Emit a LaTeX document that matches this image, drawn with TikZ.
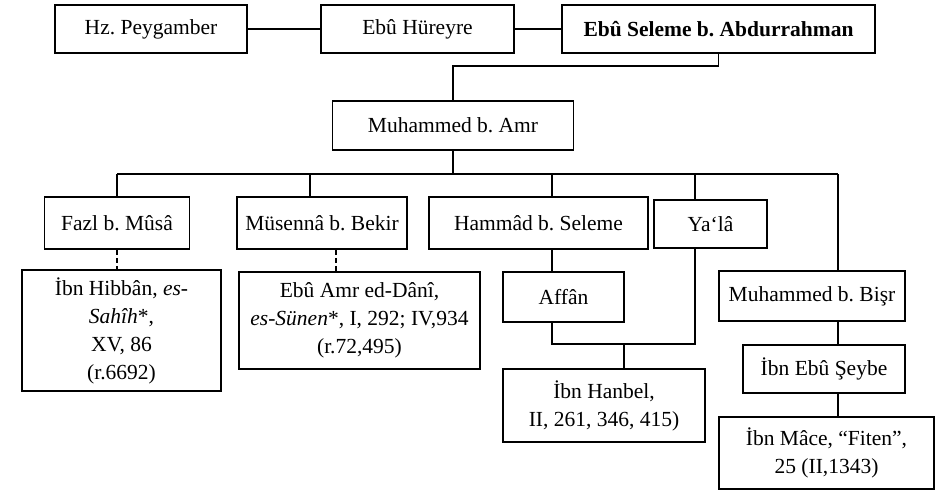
\documentclass[tikz,border=0pt]{standalone}
\usepackage{fontspec}
\setmainfont{Liberation Serif}
\usepackage{tikz}
\newcommand{\narrator}{\node[narrator]}
\frenchspacing

\begin{document}
\begin{tikzpicture}[x=1pt,y=-1pt,line width=1.5pt,
    narrator/.style={draw,rectangle,inner sep=0pt,align=center,font=\fontsize{21.5}{28}\selectfont},
    link/.style={line width=1.5pt},
    weak/.style={link,dash pattern=on 5pt off 3pt}]

    \useasboundingbox (0,0) rectangle (948,491);

    % top row
    \narrator[minimum width=192,minimum height=48] (hz) at (151,29) {Hz. Peygamber};
    \narrator[minimum width=193,minimum height=48] (hureyre) at (417.5,29) {Ebû Hüreyre};
    \narrator[minimum width=313,minimum height=48] (seleme) at (718.5,29) {\bfseries Ebû Seleme b. Abdurrahman};
    \narrator[minimum width=241,minimum height=49] (amr) at (453,125.5) {Muhammed b. Amr};

    % students of Muhammed b. Amr
    \narrator[minimum width=145,minimum height=52] (fazl) at (117,223) {Fazl b. Mûsâ};
    \narrator[minimum width=170,minimum height=52] (musenna) at (322,223) {Müsennâ b. Bekir};
    \narrator[minimum width=219,minimum height=52] (hammad) at (538.5,223) {Hammâd b. Seleme};
    \narrator[minimum width=113,minimum height=48] (yala) at (710.5,224) {Ya‘lâ};
    \narrator[minimum width=186,minimum height=50] (bisr) at (812,296) {Muhammed b. Bişr};

    % collectors
    \narrator[minimum width=199,minimum height=121] (hibban) at (121.5,330.5)
        {İbn Hibbân, \textit{es-}\\ \textit{Sahîh}*,\\ XV, 86\\ (r.6692)};
    \narrator[minimum width=241,minimum height=97] (dani) at (359.5,320.5)
        {Ebû Amr ed-Dânî,\\ \textit{es-Sünen}*, I, 292; IV,934\\ (r.72,495)};
    \narrator[minimum width=121,minimum height=50] (affan) at (563.5,297) {Affân};
    \narrator[minimum width=202,minimum height=73] (hanbel) at (604,405.5)
        {İbn Hanbel,\\ II, 261, 346, 415)};
    \narrator[minimum width=162,minimum height=48] (seybe) at (824,369) {İbn Ebû Şeybe};
    \narrator[minimum width=215,minimum height=72] (mace) at (826.5,453)
        {İbn Mâce, “Fiten”,\\ 25 (II,1343)};

    % chain
    \draw[link] (hz) -- (hureyre);
    \draw[link] (hureyre) -- (seleme);
    \draw[link] (seleme.south) -- ++(0,12) -| (amr.north);

    \coordinate (b1) at (117,174);
    \coordinate (b2) at (310,174);
    \coordinate (b3) at (552,174);
    \coordinate (b4) at (695,174);
    \coordinate (b5) at (838,174);
    \coordinate (k) at (624,344);

    \draw[link] (amr.south) -- (amr.south |- b1);
    \draw[link] (b1) -- (b5);
    \foreach \b/\n in {b1/fazl,b2/musenna,b3/hammad,b4/yala,b5/bisr}
        \draw[link] (\b) -- (\n.north -| \b);

    \draw[link] (hammad.south -| b3) -- (affan.north -| b3);
    \draw[link] (affan.south -| b3) |- (k) -| (yala.south -| b4);
    \draw[link] (k) -- (hanbel.north -| k);
    \draw[link] (bisr.south -| b5) -- (seybe.north -| b5);
    \draw[link] (seybe.south -| b5) -- (mace.north -| b5);

    % dashed
    \draw[weak] (fazl.south) -- (fazl.south |- hibban.north);
    \draw[weak] ([xshift=14pt]musenna.south) -- ([xshift=14pt]musenna.south |- dani.north);

\end{tikzpicture}
\end{document}
